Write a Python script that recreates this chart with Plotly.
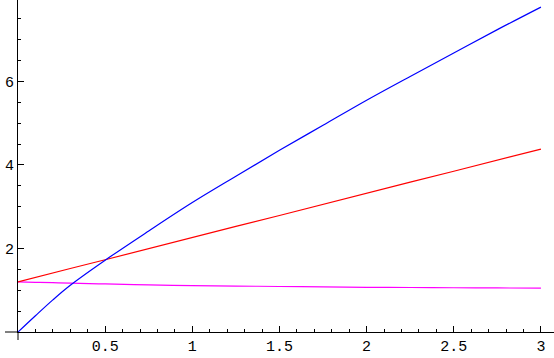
import plotly.graph_objects as go

# values
x = [0, 0.1, 0.2, 0.3, 0.5, 0.75, 1, 1.25, 1.5, 1.75, 2, 2.25, 2.5, 2.75, 3]
blue = [0, 0.39, 0.77, 1.12, 1.72, 2.42, 3.1, 3.73, 4.35, 4.95, 5.55, 6.12, 6.68, 7.24, 7.78]
red = [1.2, 1.31, 1.41, 1.52, 1.73, 2.0, 2.26, 2.53, 2.79, 3.06, 3.32, 3.59, 3.85, 4.12, 4.38]
magenta = [1.2, 1.19, 1.18, 1.17, 1.15, 1.13, 1.11, 1.1, 1.09, 1.08, 1.07, 1.065, 1.06, 1.055, 1.05]

xticks = [0.5, 1, 1.5, 2, 2.5, 3]
yticks = [2, 4, 6]

fig = go.Figure()
fig.add_trace(go.Scatter(x=x, y=magenta, mode='lines', line=dict(color='#ff00ff', width=1.2, shape='spline')))
fig.add_trace(go.Scatter(x=x, y=red, mode='lines', line=dict(color='#ff0000', width=1.2)))
fig.add_trace(go.Scatter(x=x, y=blue, mode='lines', line=dict(color='#0000ff', width=1.2, shape='spline')))

axis_font = dict(family='Liberation Mono', size=15, color='black')
fig.update_xaxes(range=[0, 3.075], showgrid=False, zeroline=False, showline=True, linecolor='black', linewidth=1,
                 tickvals=xticks, ticktext=[str(v) for v in xticks], ticks='inside', ticklen=6, tickcolor='black',
                 tickfont=axis_font, automargin=False,
                 minor=dict(dtick=0.1, tick0=0, ticks='inside', ticklen=3, tickcolor='black'))
fig.update_yaxes(range=[0, 7.95], showgrid=False, zeroline=False, showline=True, linecolor='black', linewidth=1,
                 tickvals=yticks, ticktext=[str(v) for v in yticks], ticks='inside', ticklen=6, tickcolor='black',
                 tickfont=axis_font, automargin=False,
                 minor=dict(dtick=0.5, tick0=0, ticks='inside', ticklen=3, tickcolor='black'))

# axis lines extend a little past the origin
fig.add_shape(type='line', xref='paper', yref='paper', x0=-13/536, x1=0, y0=0, y1=0, line=dict(color='black', width=1))
fig.add_shape(type='line', xref='paper', yref='paper', x0=0, x1=0, y0=-8/332, y1=0, line=dict(color='black', width=1))

fig.update_layout(width=554, height=358, margin=dict(l=18, r=0, t=0, b=26),
                  plot_bgcolor='white', paper_bgcolor='white', showlegend=False)
fig.write_html('out.html', config={'displayModeBar': False},
               post_script="document.body.style.margin='0';")
